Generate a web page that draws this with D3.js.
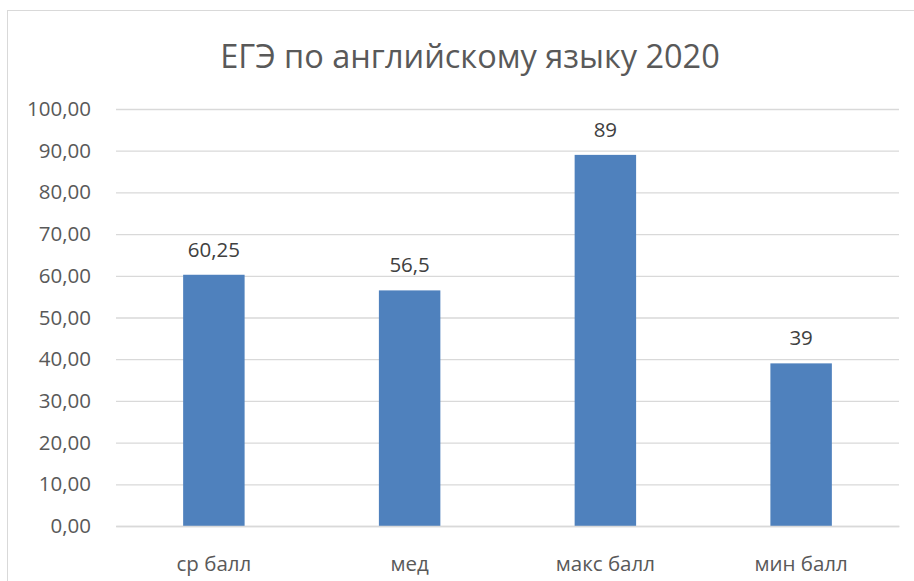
<!DOCTYPE html>
<html><head><meta charset="utf-8">
<script src="https://cdn.jsdelivr.net/npm/d3@7"></script>
<style>body{margin:0;background:#fff}svg{display:block}text{font-family:"Open Sans",sans-serif}</style>
</head><body>
<script>
const title = "ЕГЭ по английскому языку 2020";
const categories = ["ср балл", "мед", "макс балл", "мин балл"];
const values = [60.25, 56.5, 89, 39];
const valueLabels = ["60,25", "56,5", "89", "39"];
const yTicks = [0,10,20,30,40,50,60,70,80,90,100];

const W = 914, H = 581;
const svg = d3.select("body").append("svg").attr("width", W).attr("height", H);
svg.append("rect").attr("x", 7.5).attr("y", 10.5).attr("width", 920).attr("height", 600)
  .attr("fill", "#fff").attr("stroke", "#d9d9d9");

const x = d3.scaleBand().domain(categories).range([116, 899]).paddingInner(0.686).paddingOuter(0.343);
const y = d3.scaleLinear().domain([0, 100]).range([526, 109]);

const fmt = d => d.toFixed(2).replace(".", ",");

const ga = svg.append("g").attr("transform", "translate(116,0)")
  .call(d3.axisLeft(y).tickValues(yTicks).tickFormat(fmt).tickSize(-783).tickPadding(25));
ga.select(".domain").remove();
ga.selectAll(".tick line").attr("stroke", "#d9d9d9").attr("stroke-width", 1.3);
ga.selectAll(".tick text").attr("fill", "#595959").attr("font-size", 20.5).attr("font-family", "Open Sans");

svg.selectAll(".bar").data(values).join("rect").attr("class", "bar")
  .attr("x", (d, i) => x(categories[i])).attr("width", x.bandwidth())
  .attr("y", d => y(d)).attr("height", d => y(0) - y(d)).attr("fill", "#4f81bd");

svg.selectAll(".vl").data(values).join("text").attr("class", "vl")
  .attr("x", (d, i) => x(categories[i]) + x.bandwidth() / 2).attr("y", d => y(d) - 18)
  .attr("text-anchor", "middle").attr("fill", "#404040").attr("font-size", 20.5)
  .text((d, i) => valueLabels[i]);

const gx = svg.append("g").attr("transform", "translate(0,526)")
  .call(d3.axisBottom(x).tickSize(0).tickPadding(0));
gx.select(".domain").attr("stroke", "#d9d9d9").attr("stroke-width", 1.3);
gx.selectAll(".tick text").attr("fill", "#595959").attr("font-size", 20.5).attr("font-family", "Open Sans")
  .attr("dy", null).attr("y", 45);

svg.append("text").attr("x", 470).attr("y", 68).attr("text-anchor", "middle")
  .attr("fill", "#595959").attr("font-size", 32.5).text(title);
</script>
</body></html>
